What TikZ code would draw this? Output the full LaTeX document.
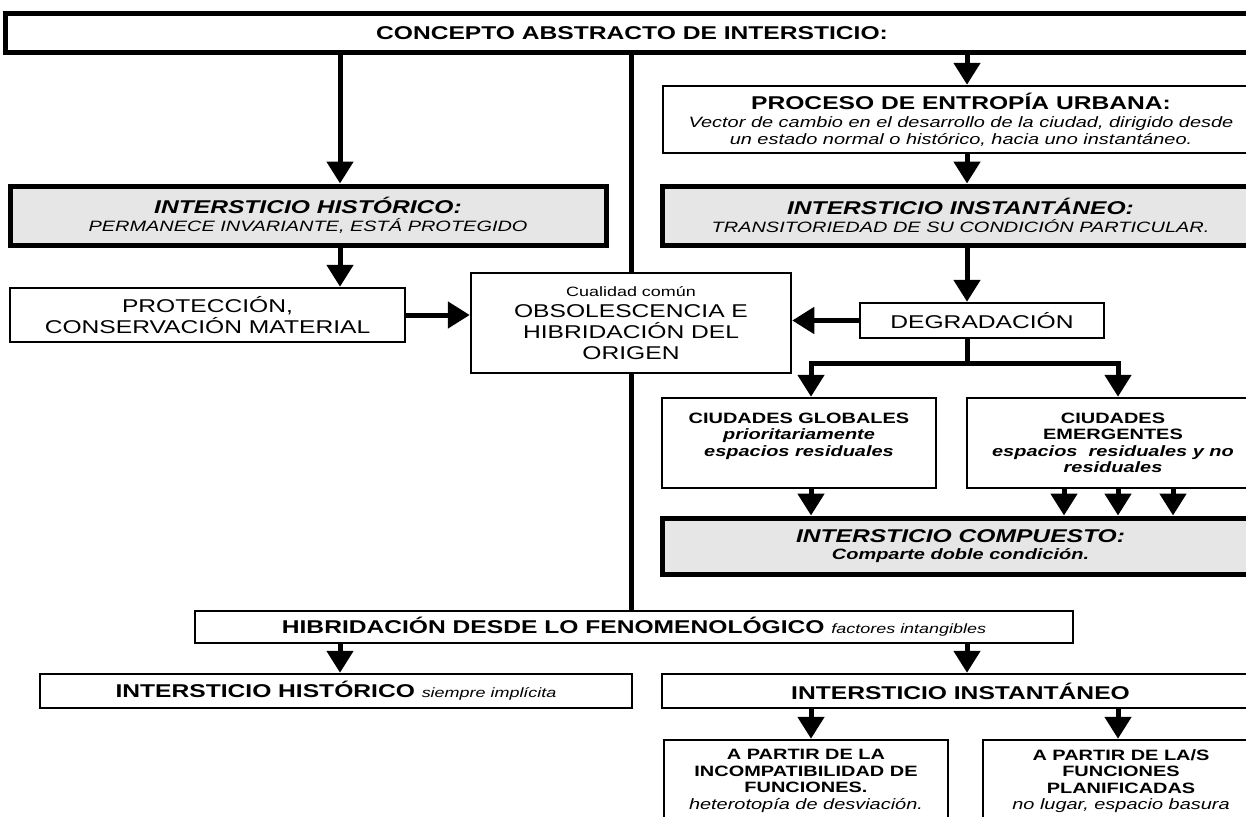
\documentclass[tikz,border=0pt]{standalone}
\usepackage{fontspec}
\setmainfont{Liberation Sans}[FakeStretch=1.33]
\usetikzlibrary{arrows.meta}
\definecolor{cajagris}{RGB}{230,230,230}
\newcommand{\fgrande}{\fontsize{18.5}{21}\selectfont}
\newcommand{\fmedia}{\fontsize{15}{16.5}\selectfont}
\newcommand{\fchica}{\fontsize{13.5}{15}\selectfont}

\tikzset{
  caja/.style={draw, line width=2.5pt, inner sep=0pt, align=center},
  cajagruesa/.style={caja, line width=5pt, fill=cajagris},
  linea/.style={line width=5pt},
  flecha/.style={linea, -{Triangle[width=26pt,length=22pt]}},
}

\begin{document}
\begin{tikzpicture}[x=1pt,y=-1pt]
  \useasboundingbox (0,0) rectangle (1246,816);
  \clip (0,0) rectangle (1246,816);
  \fill[white] (0,0) rectangle (1246,816);

  % columnas de las flechas
  \coordinate (colL) at (340,0);
  \coordinate (colR) at (967,0);
  \coordinate (g1) at (811,0);
  \coordinate (e1) at (1064,0);
  \coordinate (e2) at (1118,0);
  \coordinate (e3) at (1173,0);
  \coordinate (split) at (967,363);

  % cajas
  \node[caja, line width=5pt, minimum width=1254, minimum height=39, font=\fgrande\bfseries] (abstracto) at (632,33.5) {CONCEPTO ABSTRACTO DE INTERSTICIO:};
  \node[caja, minimum width=596, minimum height=67, font=\fmedia\itshape] (entropia) at (961,119.5)
    {{\fgrande\bfseries\upshape PROCESO DE ENTROPÍA URBANA:}\\[2pt] Vector de cambio en el desarrollo de la ciudad, dirigido desde\\ un estado normal o histórico, hacia uno instantáneo.};
  \node[cajagruesa, minimum width=597, minimum height=59, font=\fmedia\itshape] (instantaneo) at (960.5,215.5)
    {{\fgrande\bfseries INTERSTICIO INSTANTÁNEO:}\\[2pt] TRANSITORIEDAD DE SU CONDICIÓN PARTICULAR.};
  \node[cajagruesa, minimum width=596, minimum height=59, font=\fmedia\itshape] (historico) at (308,215.5)
    {{\fgrande\bfseries INTERSTICIO HISTÓRICO:}\\[2pt] PERMANECE INVARIANTE, ESTÁ PROTEGIDO};
  \node[caja, minimum width=395, minimum height=54, font=\fgrande] (proteccion) at (207.5,315)
    {PROTECCIÓN,\\ CONSERVACIÓN MATERIAL};
  \node[caja, minimum width=320, minimum height=100, font=\fgrande] (comun) at (631,323)
    {{\fchica Cualidad común}\\ OBSOLESCENCIA E\\ HIBRIDACIÓN DEL\\ ORIGEN};
  \node[caja, minimum width=244, minimum height=35, font=\fgrande] (degradacion) at (982,320.5) {DEGRADACIÓN};
  \node[caja, minimum width=274, minimum height=90, font=\fmedia\bfseries] (globales) at (799,443)
    {CIUDADES GLOBALES\\ \itshape prioritariamente\\ \itshape espacios residuales\\ \mbox{}};
  \node[caja, minimum width=292, minimum height=90, font=\fmedia\bfseries] (emergentes) at (1113,443)
    {CIUDADES\\ EMERGENTES\\ \itshape espacios\ \ residuales y no\\ \itshape residuales};
  \node[cajagruesa, minimum width=597, minimum height=56, font=\fmedia\bfseries\itshape] (compuesto) at (960.5,546)
    {{\fgrande INTERSTICIO COMPUESTO:}\\[1pt] Comparte doble condición.};
  \node[caja, minimum width=878, minimum height=32, font=\fgrande\bfseries] (hibridacion) at (634,627)
    {HIBRIDACIÓN DESDE LO FENOMENOLÓGICO {\fchica\mdseries\itshape factores intangibles}};
  \node[caja, minimum width=592, minimum height=34, font=\fgrande\bfseries] (historico2) at (336,691)
    {INTERSTICIO HISTÓRICO {\fchica\mdseries\itshape siempre implícita}};
  \node[caja, minimum width=597, minimum height=34, font=\fgrande\bfseries] (instantaneo2) at (960.5,691)
    {INTERSTICIO INSTANTÁNEO};
  \node[caja, minimum width=284, minimum height=82, font=\fmedia\bfseries] (incompatibilidad) at (806,781)
    {A PARTIR DE LA\\ INCOMPATIBILIDAD DE\\ FUNCIONES.\\ \mdseries\itshape heterotopía de desviación.};
  \node[caja, minimum width=276, minimum height=82, font=\fmedia\bfseries] (planificadas) at (1121,781)
    {A PARTIR DE LA/S\\ FUNCIONES\\ PLANIFICADAS\\ \mdseries\itshape no lugar, espacio basura};

  % conectores
  \draw[flecha] (abstracto.south -| colL) -- (historico.north -| colL);
  \draw[linea] (abstracto.south -| comun.north) -- (comun.north);
  \draw[flecha] (abstracto.south -| colR) -- (entropia.north -| colR);
  \draw[flecha] (entropia.south -| colR) -- (instantaneo.north -| colR);
  \draw[flecha] (historico.south -| colL) -- (proteccion.north -| colL);
  \draw[flecha] (proteccion.east) -- (comun.west |- proteccion.east);
  \draw[flecha] (instantaneo.south -| colR) -- (degradacion.north -| colR);
  \draw[flecha] (degradacion.west) -- (comun.east |- degradacion.west);
  \draw[linea] (degradacion.south -| colR) -- (split);
  \draw[flecha] (split) -| (globales.north -| g1);
  \draw[flecha] (split) -| (emergentes.north -| e2);
  \draw[flecha] (globales.south -| g1) -- (compuesto.north -| g1);
  \foreach \c in {e1,e2,e3}
    \draw[flecha] (emergentes.south -| \c) -- (compuesto.north -| \c);
  \draw[linea] (comun.south) -- (comun.south |- hibridacion.north);
  \draw[flecha] (hibridacion.south -| colL) -- (historico2.north -| colL);
  \draw[flecha] (hibridacion.south -| colR) -- (instantaneo2.north -| colR);
  \draw[flecha] (instantaneo2.south -| g1) -- (incompatibilidad.north -| g1);
  \draw[flecha] (instantaneo2.south -| e2) -- (planificadas.north -| e2);
\end{tikzpicture}
\end{document}
